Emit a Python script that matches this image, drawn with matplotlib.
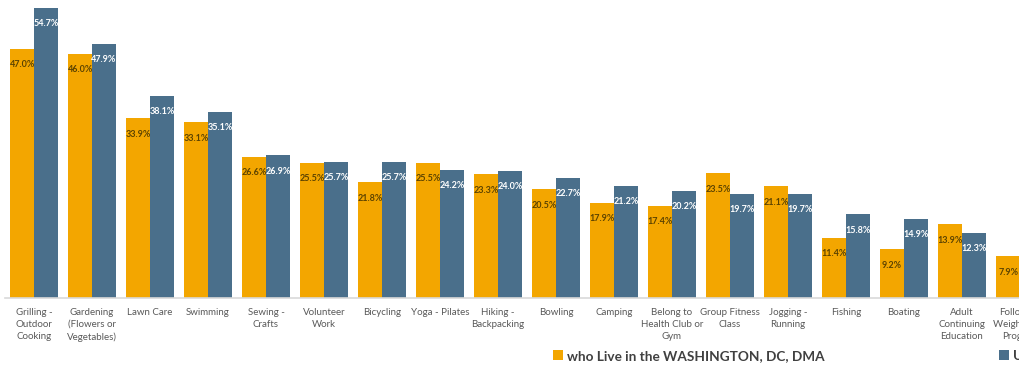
import numpy as np
import matplotlib.pyplot as plt

# Actividades (el eje se corta a la derecha, como en la imagen original)
categorias = [
    'Grilling -\nOutdoor\nCooking', 'Gardening\n(Flowers or\nVegetables)', 'Lawn Care',
    'Swimming', 'Sewing -\nCrafts', 'Volunteer\nWork', 'Bicycling', 'Yoga - Pilates',
    'Hiking -\nBackpacking', 'Bowling', 'Camping', 'Belong to\nHealth Club or\nGym',
    'Group Fitness\nClass', 'Jogging -\nRunning', 'Fishing', 'Boating',
    'Adult\nContinuing\nEducation', 'Following\nWeight Loss\nProgram',
]
washington = [47.0, 46.0, 33.9, 33.1, 26.6, 25.5, 21.8, 25.5, 23.3, 20.5,
              17.9, 17.4, 23.5, 21.1, 11.4, 9.2, 13.9, 7.9]
us_adults = [54.7, 47.9, 38.1, 35.1, 26.9, 25.7, 25.7, 24.2, 24.0, 22.7,
             21.2, 20.2, 19.7, 19.7, 15.8, 14.9, 12.3, 9.6]

naranja = '#F3A600'
azul = '#4A6F8B'
plt.rcParams['font.family'] = ['Lato', 'DejaVu Sans']

fig = plt.figure(figsize=(10.2, 3.68), dpi=100)
ax = fig.add_axes([5 / 1020, 70 / 368, 1044 / 1020, 297 / 368])

x = np.arange(len(categorias))
ancho = 0.41
b1 = ax.bar(x - ancho / 2, washington, ancho, color=naranja)
b2 = ax.bar(x + ancho / 2, us_adults, ancho, color=azul)

for barras, col in ((b1, '#5C4300'), (b2, 'white')):
    for b in barras:
        h = b.get_height()
        ax.text(b.get_x() + b.get_width() / 2, h - 3.0, f'{h:.1f}%',
                ha='center', va='center', fontsize=6.5, fontweight='bold', color=col)

ax.set_xlim(-0.5, len(categorias) - 0.5)
ax.set_ylim(0, 56)
ax.set_xticks(x)
ax.set_xticklabels(categorias, fontsize=7, color='#595959', linespacing=1.45)
ax.tick_params(axis='x', length=0, pad=7)
ax.set_yticks([])
for lado in ('top', 'right', 'left'):
    ax.spines[lado].set_visible(False)
ax.spines['bottom'].set_color('#D9D9D9')
ax.spines['bottom'].set_linewidth(1.2)

opciones = dict(loc='center left', frameon=False, fontsize=9.8,
                handlelength=0.7, handleheight=0.7, handletextpad=0.35,
                borderpad=0, borderaxespad=0, labelcolor='#404040',
                prop={'weight': 'bold', 'size': 9.8})
fig.legend([b1], ['who Live in the WASHINGTON, DC, DMA'],
           bbox_to_anchor=(553 / 1020, 1 - 356 / 368), **opciones)
fig.legend([b2], ['U.S. Adults'],
           bbox_to_anchor=(999 / 1020, 1 - 356 / 368), **opciones)

fig.savefig('out.png', dpi=100)
